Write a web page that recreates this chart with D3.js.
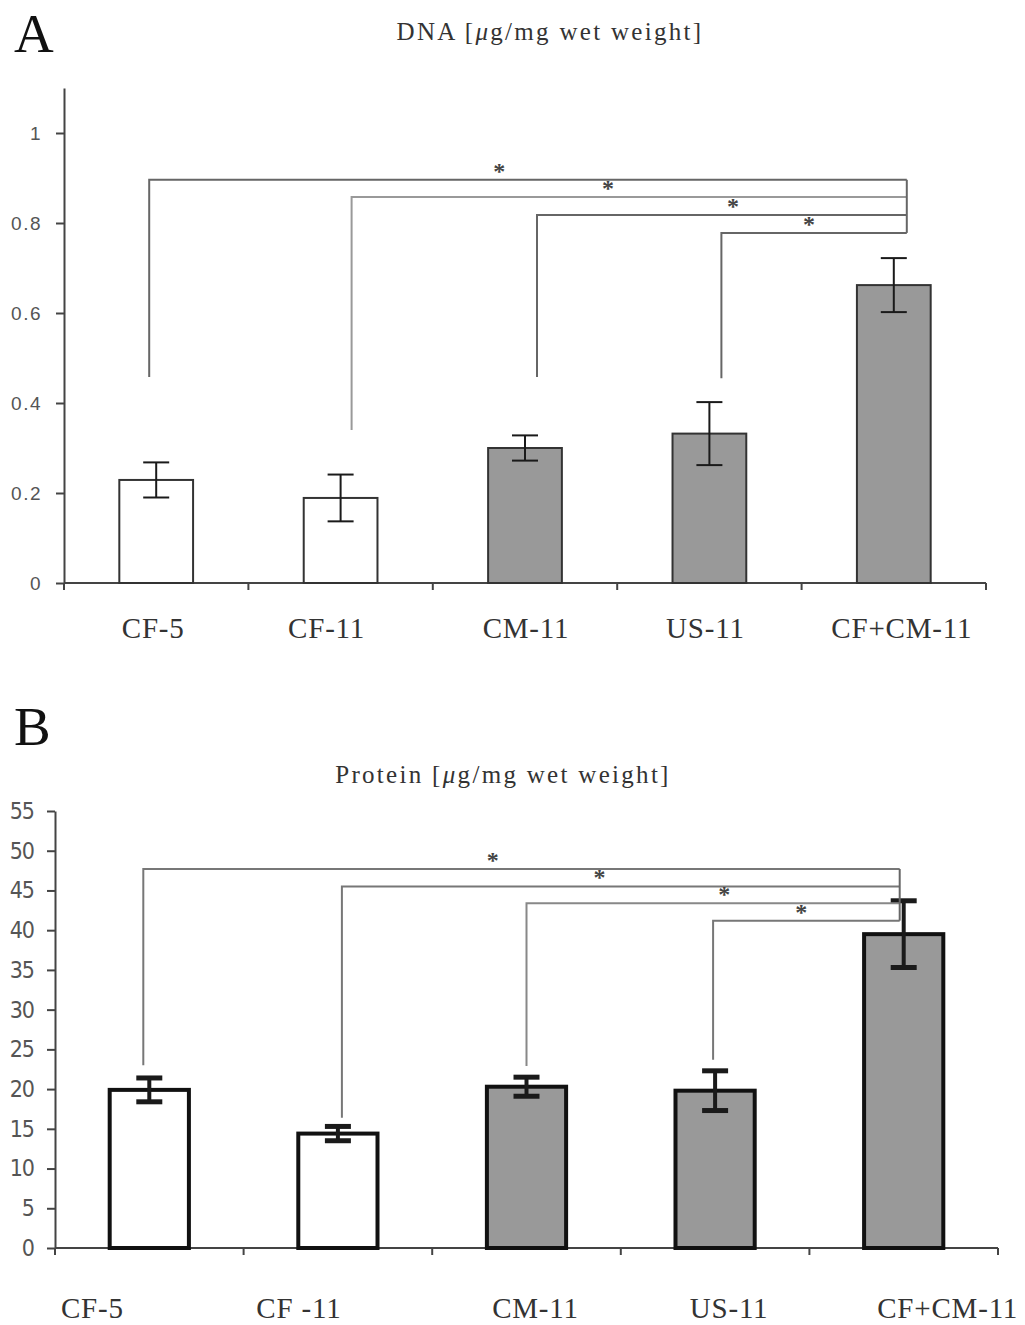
<!DOCTYPE html>
<html>
<head>
<meta charset="utf-8">
<script src="https://cdn.jsdelivr.net/npm/d3@7"></script>
<style>
  body { margin: 0; background: #fff; }
  svg { display: block; }
</style>
</head>
<body>
<svg width="1025" height="1325"></svg>
<script>
// categories and values
const categories = ["CF-5", "CF-11", "CM-11", "US-11", "CF+CM-11"];
const proteinLabels = ["CF-5", "CF -11", "CM-11", "US-11", "CF+CM-11"];
const isControl = [true, true, false, false, false];

const dnaMean = [0.229, 0.189, 0.300, 0.332, 0.662];
const dnaErr = [0.039, 0.052, 0.028, 0.070, 0.060];
const dnaTicks = [0, 0.2, 0.4, 0.6, 0.8, 1];

const proteinMean = [19.9, 14.4, 20.3, 19.8, 39.5];
const proteinErr = [1.5, 0.9, 1.2, 2.5, 4.2];
const proteinTicks = [0, 5, 10, 15, 20, 25, 30, 35, 40, 45, 50, 55];

// significance brackets: each group vs CF+CM-11 (index 4)
const compareFrom = [0, 1, 2, 3];
const compareTo = 4;
const dnaBracketTop = [0.896, 0.858, 0.818, 0.778];
const dnaBracketFoot = [0.458, 0.34, 0.458, 0.455];
const proteinBracketTop = [47.7, 45.5, 43.4, 41.2];
const proteinBracketFoot = [23.0, 16.4, 22.9, 23.7];

const svg = d3.select("svg");
const serif = "'Liberation Serif', 'Times New Roman', serif";

const starPos = [0.462, 0.462, 0.53, 0.472];

function drawPanel(p) {
    const g = svg.append("g");
    const x = d3.scaleBand().domain(d3.range(categories.length))
        .range([p.x0, p.x1]).paddingInner(p.pad).paddingOuter(p.pad / 2);
    const y = d3.scaleLinear().domain(p.domain).range([p.y0, p.y1]);
    const step = x.step();
    const cx = i => x(i) + x.bandwidth() / 2;

    // panel letter + title
    g.append("text").attr("x", 14).attr("y", p.letterY)
        .style("font-family", serif).style("font-size", "55px").attr("fill", "#111")
        .text(p.letter);
    const t = g.append("text").attr("x", p.titleX).attr("y", p.titleY)
        .attr("text-anchor", "middle").style("font-family", serif)
        .style("font-size", "25px").style("letter-spacing", "2.3px").attr("fill", "#333");
    t.append("tspan").text(p.title + " [");
    t.append("tspan").style("font-style", "italic").text("\u03BC");
    t.append("tspan").text("g/mg wet weight]");

    // y axis
    const yAxis = d3.axisLeft(y).tickValues(p.ticks).tickSize(p.tickLen).tickPadding(p.tickPad)
        .tickSizeOuter(0).tickFormat(d3.format("~g"));
    const ya = g.append("g").attr("transform", `translate(${p.x0},0)`).call(yAxis);
    ya.select(".domain").attr("stroke", "#444").attr("stroke-width", 2);
    ya.selectAll(".tick line").attr("stroke", "#444").attr("stroke-width", 2);
    ya.selectAll(".tick text").attr("fill", "#555")
        .style("font-family", p.tickFont).style("font-size", p.tickSize).style("letter-spacing", p.tickSpacing);

    // x axis baseline with ticks at group boundaries
    const bounds = d3.range(categories.length + 1).map(i => p.x0 + step * i);
    g.append("line").attr("x1", p.x0).attr("x2", p.x1).attr("y1", y(0)).attr("y2", y(0))
        .attr("stroke", "#444").attr("stroke-width", 2);
    g.selectAll(".xtick").data(bounds).enter().append("line")
        .attr("x1", d => d).attr("x2", d => d).attr("y1", y(0)).attr("y2", y(0) + 7)
        .attr("stroke", "#444").attr("stroke-width", 2);

    // bars
    g.selectAll(".bar").data(p.mean).enter().append("rect")
        .attr("x", (d, i) => x(i)).attr("width", x.bandwidth())
        .attr("y", d => y(d)).attr("height", d => y(0) - y(d))
        .attr("fill", (d, i) => isControl[i] ? "#fff" : "#999")
        .attr("stroke", p.barStroke).attr("stroke-width", p.barStrokeW);

    // error bars
    const eb = g.selectAll(".err").data(p.mean).enter().append("g");
    eb.append("line").attr("x1", (d, i) => cx(i)).attr("x2", (d, i) => cx(i))
        .attr("y1", (d, i) => y(d + p.err[i])).attr("y2", (d, i) => y(d - p.err[i]))
        .attr("stroke", "#1a1a1a").attr("stroke-width", p.errW);
    [1, -1].forEach(s => {
        eb.append("line").attr("x1", (d, i) => cx(i) - 13).attr("x2", (d, i) => cx(i) + 13)
            .attr("y1", (d, i) => y(d + s * p.err[i])).attr("y2", (d, i) => y(d + s * p.err[i]))
            .attr("stroke", "#1a1a1a").attr("stroke-width", p.capW);
    });

    // significance brackets
    compareFrom.forEach((c, k) => {
        const xa = cx(c) + p.footDx[k], xb = cx(compareTo) + p.rightDx;
        const yt = y(p.bracketTop[k]);
        g.append("path")
            .attr("d", `M${xa},${y(p.bracketFoot[k])}V${yt}H${xb}`)
            .attr("fill", "none").attr("stroke", p.bracketColor[k]).attr("stroke-width", 2);
        g.append("text").attr("x", xa + (xb - xa) * starPos[k]).attr("y", yt - 1)
            .attr("text-anchor", "middle").style("font-family", serif).style("font-size", "24px")
            .style("font-weight", "bold").attr("fill", "#444").text("*");
    });
    // right vertical of the bracket stack
    const xr = cx(compareTo) + p.rightDx;
    g.append("line").attr("x1", xr).attr("x2", xr)
        .attr("y1", y(d3.max(p.bracketTop))).attr("y2", y(d3.min(p.bracketTop)))
        .attr("stroke", "#666").attr("stroke-width", 2);

    // category labels
    g.selectAll(".cat").data(p.labels).enter().append("text")
        .attr("x", (d, i) => cx(i) + p.labelDx[i]).attr("y", p.labelY)
        .attr("text-anchor", "middle").style("font-family", serif).style("font-size", "29px")
        .style("letter-spacing", "0.8px").attr("fill", "#333").text(d => d);
}

drawPanel({
    letter: "A", letterY: 52, title: "DNA", titleX: 550, titleY: 40,
    mean: dnaMean, err: dnaErr, ticks: dnaTicks, labels: categories,
    domain: [0, 1.1], x0: 64, x1: 986, y0: 583, y1: 88, pad: 0.6,
    tickLen: 8, tickPad: 14, tickFont: "'Liberation Sans', Arial, sans-serif",
    tickSize: "19px", tickSpacing: "1.5px",
    barStroke: "#333", barStrokeW: 2, errW: 2, capW: 2,
    bracketTop: dnaBracketTop, bracketFoot: dnaBracketFoot,
    bracketColor: ["#666", "#999", "#666", "#666"], footDx: [-7, 11, 12, 12], rightDx: 13,
    labelDx: [-3, -14, 1, -4, 8], labelY: 638
});

drawPanel({
    letter: "B", letterY: 745, title: "Protein", titleX: 503, titleY: 783,
    mean: proteinMean, err: proteinErr, ticks: proteinTicks, labels: proteinLabels,
    domain: [0, 55], x0: 55, x1: 998, y0: 1248, y1: 811, pad: 0.58,
    tickLen: 8, tickPad: 13, tickFont: "'Liberation Sans Narrow', 'DejaVu Sans Condensed', sans-serif",
    tickSize: "23px", tickSpacing: "-1px",
    barStroke: "#111", barStrokeW: 4, errW: 4, capW: 5,
    bracketTop: proteinBracketTop, bracketFoot: proteinBracketFoot,
    bracketColor: ["#777", "#777", "#888", "#777"], footDx: [-6, 4, 0, -2], rightDx: -4,
    labelDx: [-57, -39, 9, 14, 44], labelY: 1318
});
</script>
</body>
</html>
